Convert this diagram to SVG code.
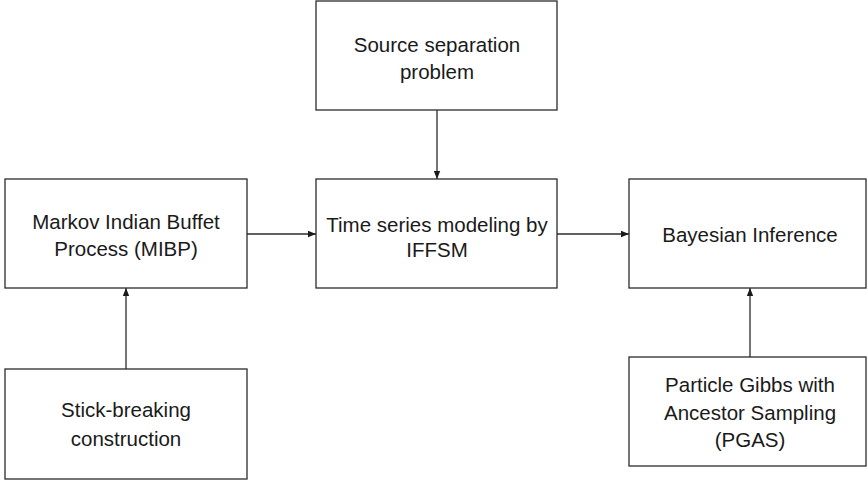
<svg xmlns="http://www.w3.org/2000/svg" width="868" height="482" viewBox="0 0 868 482">
<style>
.box{fill:#fff;stroke:#2b2b2b;stroke-width:1.3}
.t{font-family:"Liberation Sans",Arial,sans-serif;font-size:20.5px;fill:#1a1a1a;text-anchor:middle}
.c{stroke:#2b2b2b;stroke-width:1.3;fill:none;marker-end:url(#ah)}
</style>
<defs>
<marker id="ah" viewBox="0 0 10 10" refX="10" refY="5" markerWidth="8" markerHeight="8" markerUnits="userSpaceOnUse" orient="auto">
<path d="M0,1 L10,5 L0,9 z" fill="#1a1a1a"/>
</marker>
</defs>
<rect width="868" height="482" fill="#fff"/>
<g id="connectors">
<line class="c" x1="437" y1="110" x2="437" y2="179"/>
<line class="c" x1="247" y1="234" x2="316" y2="234"/>
<line class="c" x1="557" y1="234" x2="629" y2="234"/>
<line class="c" x1="126" y1="369" x2="126" y2="288"/>
<line class="c" x1="750" y1="357" x2="750" y2="288"/>
</g>
<g id="source">
<rect class="box" x="316" y="1" width="241" height="109"/>
<text class="t" x="437" y="52">Source separation</text>
<text class="t" x="437" y="79">problem</text>
</g>
<g id="mibp">
<rect class="box" x="5" y="179" width="242" height="109"/>
<text class="t" x="126" y="229">Markov Indian Buffet</text>
<text class="t" x="126" y="256">Process (MIBP)</text>
</g>
<g id="iffsm">
<rect class="box" x="316" y="179" width="241" height="109"/>
<text class="t" x="437" y="232">Time series modeling by</text>
<text class="t" x="437" y="257">IFFSM</text>
</g>
<g id="bayes">
<rect class="box" x="629" y="179" width="237" height="109"/>
<text class="t" x="750" y="242">Bayesian Inference</text>
</g>
<g id="stick">
<rect class="box" x="5" y="369" width="242" height="110"/>
<text class="t" x="126" y="417">Stick-breaking</text>
<text class="t" x="126" y="446">construction</text>
</g>
<g id="pgas">
<rect class="box" x="629" y="357" width="237" height="109"/>
<text class="t" x="750" y="392">Particle Gibbs with</text>
<text class="t" x="750" y="420">Ancestor Sampling</text>
<text class="t" x="750" y="447">(PGAS)</text>
</g>
</svg>
